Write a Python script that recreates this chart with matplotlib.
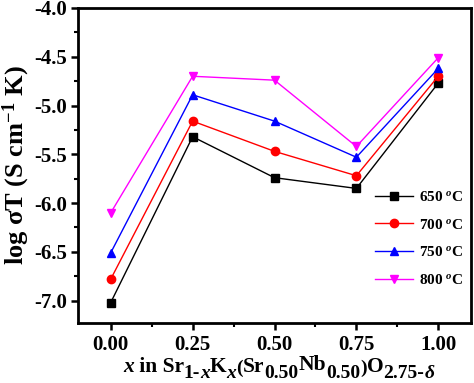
import matplotlib
matplotlib.use('Agg')
import matplotlib.pyplot as plt
from matplotlib.ticker import MultipleLocator

plt.rcParams['font.family'] = ['Liberation Serif', 'DejaVu Serif']
plt.rcParams['font.weight'] = 'bold'
plt.rcParams['mathtext.fontset'] = 'custom'
plt.rcParams['mathtext.rm'] = 'Liberation Serif:bold'
plt.rcParams['mathtext.it'] = 'Liberation Serif:italic:bold'
plt.rcParams['mathtext.bf'] = 'Liberation Serif:bold'

# data
x_vals = [0.00, 0.25, 0.50, 0.75, 1.00]
t650 = [-7.02, -5.32, -5.74, -5.85, -4.77]
t700 = [-6.78, -5.16, -5.47, -5.72, -4.70]
t750 = [-6.51, -4.89, -5.16, -5.53, -4.62]
t800 = [-6.10, -4.70, -4.74, -5.42, -4.51]
labels = ['650 $^{o}$C', '700 $^{o}$C', '750 $^{o}$C', '800 $^{o}$C']
xtick_labels = ['0.00', '0.25', '0.50', '0.75', '1.00']

series = [t650, t700, t750, t800]
colors = ['black', 'red', 'blue', 'magenta']
markers = ['s', 'o', '^', 'v']

W, H = 474, 383
fig = plt.figure(figsize=(W / 100, H / 100), dpi=100)
ax = fig.add_axes([78 / W, 1 - 323 / H, 393 / W, 315 / H])

for ys, c, m, lab in zip(series, colors, markers, labels):
    ax.plot(x_vals, ys, color=c, marker=m, markersize=6, linewidth=1.0, label=lab)

ax.set_xlim(-0.1, 1.1)
ax.set_ylim(-7.23, -4.0)
ax.set_xticks(x_vals)
ax.set_xticklabels(xtick_labels)
ax.xaxis.set_minor_locator(MultipleLocator(0.125))
ax.yaxis.set_major_locator(MultipleLocator(0.5))
ax.yaxis.set_minor_locator(MultipleLocator(0.25))
ax.yaxis.set_major_formatter(plt.FuncFormatter(lambda v, p: f'{v:.1f}'))

ax.tick_params(which='major', direction='out', length=5, width=1.8, labelsize=15, pad=3)
ax.tick_params(axis='x', which='major', pad=4)
ax.tick_params(which='minor', direction='out', length=3, width=1.5)
for s in ax.spines.values():
    s.set_linewidth(2)
for t in ax.get_xticklabels() + ax.get_yticklabels():
    t.set_fontweight('bold')

ax.set_ylabel('log σT (S cm$^{-1}$ K)', fontsize=19, fontweight='bold')
ax.yaxis.set_label_coords(-0.117, 0.5)

# x label built from pieces so the subscripts stay large like the original
M, S = 15.5, 14
xlabel_pieces = [
    ('x', M, 0, 'italic'), (' in Sr', M, 0, 'normal'), ('1-', S, 6, 'normal'),
    ('x', S, 6, 'italic'), ('K', M, 0, 'normal'), ('x', S, 6, 'italic'),
    ('(', S, 1, 'normal'), ('Sr', M, 0, 'normal'), ('0.50', S, 6, 'normal'),
    ('Nb', M, -2, 'normal'), ('0.50', S, 6, 'normal'), (')', S, 1, 'normal'),
    ('O', M, 0, 'normal'), ('2.75-', S, 6, 'normal'), ('δ', S, 6, 'italic'),
]
renderer = fig.canvas.get_renderer()
xpos, base = 123, 372
for txt, size, dy, style in xlabel_pieces:
    t = fig.text(xpos / W, 1 - (base + dy) / H, txt, fontsize=size, fontstyle=style,
                 fontweight='bold', ha='left', va='baseline')
    xpos += t.get_window_extent(renderer).width

ax.legend(loc='upper left', bbox_to_anchor=(375 / W, 1 - 190 / H), bbox_transform=fig.transFigure,
          frameon=False, fontsize=11, borderpad=0, borderaxespad=0,
          handlelength=2.5, handletextpad=0.35, labelspacing=0.9)

fig.savefig('out.png', dpi=100)
